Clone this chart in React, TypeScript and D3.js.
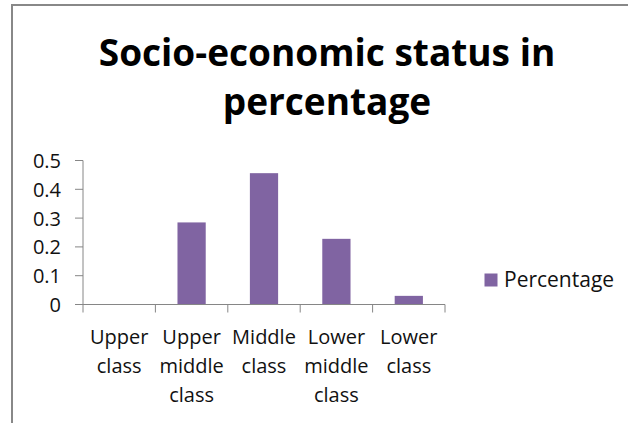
import React from "react";
import * as d3 from "d3";

const categories = ["Upper class", "Upper middle class", "Middle class", "Lower middle class", "Lower class"];
const values = [0, 0.285, 0.456, 0.228, 0.03];
const yTicks = [0, 0.1, 0.2, 0.3, 0.4, 0.5];
const seriesName = "Percentage";
const titleLines = ["Socio-economic status in", "percentage"];

const W = 628;
const H = 423;
const FONT = "'Open Sans', 'DejaVu Sans', sans-serif";
const AXIS = "#868686";
const BAR = "#8064A2";

export default function App() {
  const x = d3.scaleBand<string>().domain(categories).range([83, 445]).paddingInner(0).paddingOuter(0);
  const y = d3.scaleLinear().domain([0, 0.5]).range([304.5, 160.5]);
  const bw = x.bandwidth() * 0.39;
  const boundaries = categories.map((c) => x(c) as number).concat([x.range()[1]]);

  return (
    <svg
      width={W}
      height={H}
      style={{ position: "absolute", left: 0, top: 0, background: "#fff" }}
      fontFamily={FONT}
    >
      <rect x={0} y={0} width={W} height={H} fill="#fff" />
      <path d={`M12,${H} V5 H${W}`} fill="none" stroke="#888" strokeWidth={2} />

      {/* Title */}
      {titleLines.map((t, i) => (
        <text
          key={i}
          x={327}
          y={65.5 + i * 49}
          textAnchor="middle"
          fontSize={37}
          fontWeight="bold"
          fill="#000"
        >
          {t}
        </text>
      ))}

      {/* Bars */}
      {categories.map((c, i) => {
        const cx = (x(c) as number) + x.bandwidth() / 2;
        return (
          <rect
            key={c}
            x={cx - bw / 2}
            y={y(values[i])}
            width={bw}
            height={y(0) - y(values[i])}
            fill={BAR}
          />
        );
      })}

      {/* Y axis */}
      <line x1={83} x2={83} y1={y(0.5)} y2={y(0)} stroke={AXIS} strokeWidth={1} />
      {yTicks.map((t) => (
        <g key={t}>
          <line x1={75} x2={83} y1={y(t)} y2={y(t)} stroke={AXIS} strokeWidth={1} />
          <text x={61} y={y(t) + 7.5} textAnchor="end" fontSize={20} fill="#111">
            {d3.format("~g")(t)}
          </text>
        </g>
      ))}

      {/* X axis */}
      <line x1={75} x2={445} y1={y(0)} y2={y(0)} stroke={AXIS} strokeWidth={1} />
      {boundaries.map((b, i) => (
        <line key={i} x1={b} x2={b} y1={y(0)} y2={y(0) + 8} stroke={AXIS} strokeWidth={1} />
      ))}
      {categories.map((c) => {
        const cx = (x(c) as number) + x.bandwidth() / 2;
        return c.split(" ").map((w, j) => (
          <text key={c + j} x={cx} y={344 + j * 29} textAnchor="middle" fontSize={20} fill="#111">
            {w}
          </text>
        ));
      })}

      {/* Legend */}
      <rect x={484.5} y={273.5} width={13} height={13} fill={BAR} />
      <text x={504} y={287} fontSize={21} fill="#111">
        {seriesName}
      </text>
    </svg>
  );
}
